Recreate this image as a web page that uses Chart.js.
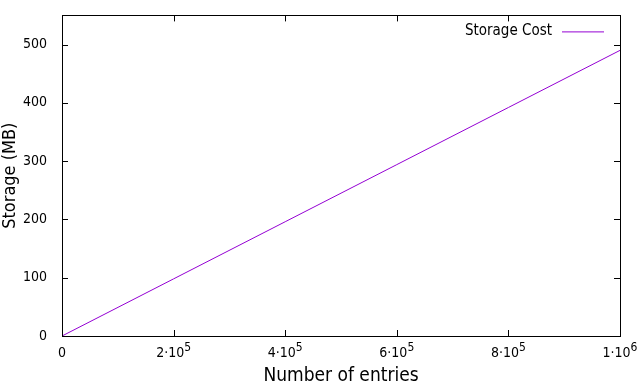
<!DOCTYPE html>
<html>
<head>
<meta charset="utf-8">
<script src="https://cdn.jsdelivr.net/npm/chart.js@4"></script>
<style>
  html, body { margin: 0; padding: 0; background: #fff; }
  #wrap { width: 640px; height: 387px; }
</style>
</head>
<body>
<div id="wrap"><canvas id="storage_chart" width="640" height="387"></canvas></div>
<script>
// data
var entries = [0, 200000, 400000, 600000, 800000, 1000000];
var storage_mb = [0, 98, 196, 294, 392, 490];
var x_tick_labels = ["0", "2·10^5", "4·10^5", "6·10^5", "8·10^5", "1·10^6"];
var series_name = "Storage Cost";

var line_color = "#9400d3";
var font_name = "'DejaVu Sans Condensed', 'DejaVu Sans', sans-serif";

var points = [];
for (var i = 0; i < entries.length; i++) {
  points.push({ x: entries[i], y: storage_mb[i] });
}

// gnuplot style frame, inward ticks on every side, x labels with exponents, legend
var frame_plugin = {
  id: "frame",
  afterDraw: function (chart) {
    var ctx = chart.ctx;
    var a = chart.chartArea;
    var xs = chart.scales.x;
    var ys = chart.scales.y;
    var len = 6;
    ctx.save();
    ctx.strokeStyle = "#000";
    ctx.lineWidth = 1;
    ctx.beginPath();
    xs.ticks.forEach(function (t) {
      var px = Math.round(xs.getPixelForValue(t.value)) + 0.5;
      ctx.moveTo(px, a.bottom); ctx.lineTo(px, a.bottom - len);
      ctx.moveTo(px, a.top); ctx.lineTo(px, a.top + len);
    });
    ys.ticks.forEach(function (t) {
      var py = Math.round(ys.getPixelForValue(t.value)) + 0.5;
      ctx.moveTo(a.left, py); ctx.lineTo(a.left + len, py);
      ctx.moveTo(a.right, py); ctx.lineTo(a.right - len, py);
    });
    ctx.stroke();
    ctx.strokeRect(Math.round(a.left) + 0.5, Math.round(a.top) + 0.5,
      Math.round(a.right - a.left), Math.round(a.bottom - a.top));

    // x tick labels, "a·10^b" with raised exponent
    var base_font = "14px " + font_name;
    var sup_font = "12px " + font_name;
    ctx.fillStyle = "#000";
    ctx.textBaseline = "alphabetic";
    ctx.textAlign = "left";
    xs.ticks.forEach(function (t, idx) {
      var parts = x_tick_labels[idx].split("^");
      ctx.font = base_font;
      var wb = ctx.measureText(parts[0]).width;
      var ws = 0;
      if (parts[1]) {
        ctx.font = sup_font;
        ws = ctx.measureText(parts[1]).width;
      }
      var px = xs.getPixelForValue(t.value);
      var x0 = px - (wb + ws) / 2;
      var by = a.bottom + 21;
      ctx.font = base_font;
      ctx.fillText(parts[0], x0, by);
      if (parts[1]) {
        ctx.font = sup_font;
        ctx.fillText(parts[1], x0 + wb, by - 6);
      }
    });

    // legend
    ctx.font = "15px " + font_name;
    ctx.textAlign = "right";
    ctx.textBaseline = "middle";
    ctx.fillText(series_name, a.right - 68, a.top + 16);
    ctx.strokeStyle = line_color;
    ctx.beginPath();
    ctx.moveTo(a.right - 58, a.top + 16.5);
    ctx.lineTo(a.right - 16, a.top + 16.5);
    ctx.stroke();
    ctx.restore();
  }
};

var ctx = document.getElementById("storage_chart").getContext("2d");
var chart = new Chart(ctx, {
  type: "line",
  data: {
    datasets: [{
      label: series_name,
      data: points,
      borderColor: line_color,
      borderWidth: 1,
      pointRadius: 0,
      fill: false,
      tension: 0
    }]
  },
  options: {
    responsive: false,
    animation: false,
    layout: {
      padding: { top: 14, right: 20, left: 0, bottom: 0 }
    },
    scales: {
      x: {
        type: "linear",
        min: 0,
        max: 1000000,
        afterFit: function (s) { s.height = 51; },
        afterBuildTicks: function (s) {
          s.ticks = entries.map(function (v) { return { value: v }; });
        },
        grid: { display: false },
        border: { display: false },
        ticks: { display: false },
        title: {
          display: true,
          text: "Number of entries",
          color: "#000",
          font: { family: font_name, size: 19 },
          padding: { top: 0, bottom: 0 }
        }
      },
      y: {
        min: 0,
        max: 550,
        afterFit: function (s) { s.width = 62; },
        grid: { display: false },
        border: { display: false },
        ticks: {
          stepSize: 100,
          padding: 7,
          color: "#000",
          font: { family: font_name, size: 14 },
          callback: function (v) { return v % 100 === 0 ? v : null; }
        },
        title: {
          display: true,
          text: "Storage (MB)",
          color: "#000",
          font: { family: font_name, size: 18 },
          padding: { top: 0, bottom: 0 }
        }
      }
    },
    plugins: {
      legend: { display: false },
      tooltip: { enabled: false }
    }
  },
  plugins: [frame_plugin]
});
</script>
</body>
</html>
